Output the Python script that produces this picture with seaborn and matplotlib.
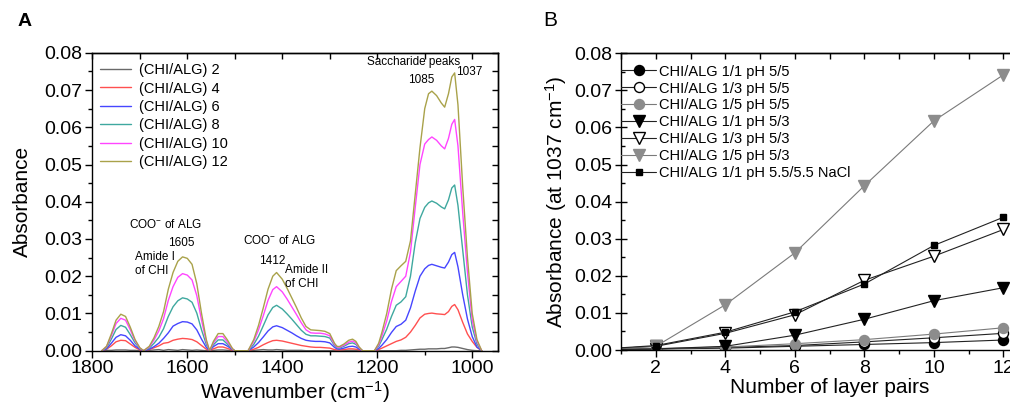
import matplotlib
matplotlib.use("Agg")
import matplotlib.pyplot as plt
import seaborn as sns
from matplotlib.ticker import MultipleLocator, FormatStrFormatter

# ---- panel A: FTIR spectra (baseline corrected per segment) ----
wavenumber = [1780, 1770, 1760, 1750, 1740, 1730, 1720, 1710, 1700, 1692,
              1680, 1670, 1660, 1650, 1640, 1630, 1620, 1610, 1600, 1590, 1580, 1570, 1560, 1553,
              1545, 1535, 1525, 1515, 1505, 1500,
              1472, 1460, 1450, 1440, 1430, 1420, 1412, 1400, 1390, 1380, 1370, 1360, 1350, 1340,
              1330, 1320, 1310, 1300, 1290, 1285,
              1280, 1270, 1260, 1252, 1245, 1238, 1231,
              1206, 1197, 1190, 1180, 1170, 1160, 1150, 1140, 1130, 1120, 1110, 1100, 1092, 1085,
              1075, 1065, 1058, 1050, 1043, 1037, 1030, 1020, 1010, 1000, 990, 980]

abs_2 = [0, 0.0001, 0.0001, 0.0002, 0.0002, 0.0002, 0.0001, 0.0001, 0, 0,
         0.0001, 0.0002, 0.0003, 0.0001, 0.0003, 0.0002, 0.0001, 0.0003, 0.0002, 0.0001, 0.0002, 0.0001, 0, 0,
         0.0001, 0.0002, 0.0002, 0.0001, 0, 0,
         0, 0.0001, 0.0002, 0.0003, 0.0002, 0.0002, 0.0003, 0.0002, 0.0001, 0.0001, 0.0001, 0.0001, 0, 0,
         0, 0, 0, 0, 0, 0,
         0, 0, 0.0001, 0.0001, 0.0001, 0, 0,
         0, 0, 0, 0, 0, 0, 0.0001, 0.0001, 0.0002, 0.0003, 0.0004, 0.0004, 0.0005, 0.0005,
         0.0005, 0.0006, 0.0006, 0.0008, 0.0010, 0.0010, 0.0009, 0.0006, 0.0003, 0.0001, 0, 0]

abs_4 = [0, 0.0004, 0.0013, 0.0024, 0.0028, 0.0027, 0.0018, 0.0009, 0.0002, 0,
         0.0003, 0.0008, 0.0013, 0.0020, 0.0022, 0.0028, 0.0031, 0.0033, 0.0032, 0.0030, 0.0024, 0.0014, 0.0004, 0,
         0.0005, 0.0010, 0.0010, 0.0006, 0.0001, 0,
         0, 0.0004, 0.0009, 0.0016, 0.0022, 0.0027, 0.0028, 0.0026, 0.0023, 0.0020, 0.0017, 0.0014, 0.0012, 0.0010,
         0.0009, 0.0009, 0.0008, 0.0007, 0.0003, 0.0002,
         0.0002, 0.0003, 0.0005, 0.0005, 0.0004, 0.0002, 0,
         0, 0.0003, 0.0007, 0.0013, 0.0019, 0.0025, 0.0029, 0.0036, 0.0050, 0.0068, 0.0088, 0.0098, 0.0100, 0.0101,
         0.0099, 0.0098, 0.0097, 0.0105, 0.0119, 0.0124, 0.0110, 0.0076, 0.0045, 0.0025, 0.0009, 0]

abs_6 = [0, 0.0005, 0.0020, 0.0036, 0.0043, 0.0040, 0.0028, 0.0013, 0.0004, 0,
         0.0004, 0.0011, 0.0020, 0.0033, 0.0048, 0.0066, 0.0073, 0.0078, 0.0077, 0.0072, 0.0056, 0.0031, 0.0009, 0,
         0.0011, 0.0019, 0.0019, 0.0012, 0.0003, 0,
         0, 0.0010, 0.0022, 0.0037, 0.0053, 0.0064, 0.0067, 0.0062, 0.0055, 0.0048, 0.0040, 0.0033, 0.0028, 0.0026,
         0.0025, 0.0025, 0.0024, 0.0021, 0.0009, 0.0005,
         0.0004, 0.0007, 0.0011, 0.0012, 0.0010, 0.0004, 0,
         0, 0.0006, 0.0015, 0.0030, 0.0049, 0.0065, 0.0071, 0.0082, 0.0115, 0.0160, 0.0200, 0.0220, 0.0229, 0.0232,
         0.0228, 0.0224, 0.0222, 0.0238, 0.0258, 0.0264, 0.0225, 0.0150, 0.0085, 0.0038, 0.0010, 0]

abs_8 = [0, 0.0008, 0.0031, 0.0057, 0.0068, 0.0063, 0.0043, 0.0021, 0.0006, 0,
         0.0007, 0.0020, 0.0036, 0.0059, 0.0092, 0.0118, 0.0134, 0.0142, 0.0139, 0.0130, 0.0101, 0.0056, 0.0017, 0,
         0.0016, 0.0029, 0.0029, 0.0017, 0.0004, 0,
         0, 0.0017, 0.0039, 0.0067, 0.0096, 0.0116, 0.0122, 0.0112, 0.0099, 0.0085, 0.0070, 0.0055, 0.0044, 0.0040,
         0.0040, 0.0039, 0.0038, 0.0034, 0.0014, 0.0008,
         0.0007, 0.0012, 0.0019, 0.0021, 0.0017, 0.0007, 0,
         0, 0.0012, 0.0030, 0.0058, 0.0092, 0.0122, 0.0131, 0.0145, 0.0200, 0.0290, 0.0355, 0.0385, 0.0397, 0.0402,
         0.0396, 0.0386, 0.0381, 0.0405, 0.0437, 0.0445, 0.0390, 0.0270, 0.0150, 0.0064, 0.0018, 0]

abs_10 = [0, 0.0011, 0.0040, 0.0073, 0.0087, 0.0082, 0.0056, 0.0027, 0.0007, 0,
          0.0010, 0.0029, 0.0053, 0.0086, 0.0135, 0.0172, 0.0197, 0.0207, 0.0203, 0.0190, 0.0148, 0.0082, 0.0025, 0,
          0.0021, 0.0038, 0.0038, 0.0023, 0.0005, 0,
          0, 0.0025, 0.0056, 0.0094, 0.0135, 0.0164, 0.0172, 0.0158, 0.0139, 0.0118, 0.0097, 0.0075, 0.0056, 0.0048,
          0.0047, 0.0047, 0.0045, 0.0040, 0.0017, 0.0010,
          0.0009, 0.0015, 0.0023, 0.0026, 0.0021, 0.0008, 0,
          0, 0.0016, 0.0040, 0.0080, 0.0132, 0.0172, 0.0186, 0.0200, 0.0265, 0.0385, 0.0500, 0.0555, 0.0567, 0.0574,
          0.0565, 0.0550, 0.0542, 0.0570, 0.0608, 0.0621, 0.0550, 0.0370, 0.0210, 0.0082, 0.0025, 0]

abs_12 = [0, 0.0012, 0.0045, 0.0082, 0.0098, 0.0092, 0.0063, 0.0030, 0.0008, 0,
          0.0012, 0.0035, 0.0065, 0.0105, 0.0165, 0.0210, 0.0240, 0.0252, 0.0248, 0.0232, 0.0180, 0.0100, 0.0030, 0,
          0.0025, 0.0046, 0.0046, 0.0028, 0.0006, 0,
          0, 0.0030, 0.0068, 0.0115, 0.0165, 0.0200, 0.0210, 0.0192, 0.0168, 0.0142, 0.0116, 0.0088, 0.0065, 0.0056,
          0.0055, 0.0054, 0.0052, 0.0046, 0.0020, 0.0012,
          0.0011, 0.0018, 0.0028, 0.0031, 0.0025, 0.0010, 0,
          0, 0.0020, 0.0050, 0.0100, 0.0165, 0.0215, 0.0228, 0.0240, 0.0295, 0.0420, 0.0545, 0.0650, 0.0690, 0.0697,
          0.0685, 0.0665, 0.0654, 0.0690, 0.0735, 0.0746, 0.0660, 0.0440, 0.0250, 0.0100, 0.0030, 0]

spectra = [abs_2, abs_4, abs_6, abs_8, abs_10, abs_12]
spectra_labels = ["(CHI/ALG) 2", "(CHI/ALG) 4", "(CHI/ALG) 6",
                  "(CHI/ALG) 8", "(CHI/ALG) 10", "(CHI/ALG) 12"]
spectra_colors = ["#6a6a6a", "#ff5050", "#4646ff", "#3fa89f", "#ff45ff", "#a9a24a"]

# ---- panel B: absorbance at 1037 cm-1 vs layer pairs ----
layer_pairs = [0, 2, 4, 6, 8, 10, 12]
b_11_55 = [0, 0.0003, 0.0005, 0.0010, 0.0015, 0.0020, 0.0027]
b_13_55 = [0, 0.0003, 0.0007, 0.0012, 0.0022, 0.0033, 0.0045]
b_15_55 = [0, 0.0004, 0.0008, 0.0017, 0.0028, 0.0043, 0.0060]
b_11_53 = [0, 0.0003, 0.0010, 0.0040, 0.0083, 0.0133, 0.0168]
b_13_53 = [0, 0.0010, 0.0045, 0.0095, 0.0188, 0.0253, 0.0325]
b_15_53 = [0, 0.0010, 0.0122, 0.0262, 0.0443, 0.0618, 0.0742]
b_11_nacl = [0, 0.0012, 0.0048, 0.0103, 0.0178, 0.0282, 0.0358]

growth = [b_11_55, b_13_55, b_15_55, b_11_53, b_13_53, b_15_53, b_11_nacl]
growth_labels = ["CHI/ALG 1/1 pH 5/5", "CHI/ALG 1/3 pH 5/5", "CHI/ALG 1/5 pH 5/5",
                 "CHI/ALG 1/1 pH 5/3", "CHI/ALG 1/3 pH 5/3", "CHI/ALG 1/5 pH 5/3",
                 "CHI/ALG 1/1 pH 5.5/5.5 NaCl"]
# marker, face, edge, line colour, size
growth_styles = [("o", "black", "black", "#222222", 7.2),
                 ("o", "white", "black", "#222222", 7.2),
                 ("o", "#8c8c8c", "#8c8c8c", "#7a7a7a", 7.2),
                 ("v", "black", "black", "#222222", 8.0),
                 ("v", "white", "black", "#222222", 8.0),
                 ("v", "#8c8c8c", "#8c8c8c", "#7a7a7a", 8.0),
                 ("s", "black", "black", "#222222", 4.6)]

sns.set_theme(style="ticks")
plt.rcParams["font.family"] = ["Liberation Sans", "DejaVu Sans"]
plt.rcParams["mathtext.default"] = "regular"
for key in ["text.color", "axes.labelcolor", "xtick.color", "ytick.color", "axes.edgecolor"]:
    plt.rcParams[key] = "black"
plt.rcParams["axes.linewidth"] = 1.0

fig = plt.figure(figsize=(10.1, 4.07), dpi=100)
ax_a = fig.add_axes([0.0914, 0.1383, 0.402, 0.732])
ax_b = fig.add_axes([0.6149, 0.140, 0.413, 0.729])

# panel A
for vals, lab, col in zip(spectra, spectra_labels, spectra_colors):
    sns.lineplot(x=wavenumber, y=vals, ax=ax_a, color=col, lw=1.0, label=lab,
                 sort=False, estimator=None, errorbar=None)

ax_a.set_xlim(1800, 945)
ax_a.set_ylim(0, 0.08)
ax_a.xaxis.set_major_locator(MultipleLocator(200))
ax_a.xaxis.set_minor_locator(MultipleLocator(100))
ax_a.yaxis.set_major_locator(MultipleLocator(0.01))
ax_a.yaxis.set_minor_locator(MultipleLocator(0.005))
ax_a.yaxis.set_major_formatter(FormatStrFormatter("%.2f"))
ax_a.tick_params(which="both", direction="out", labelsize=14, width=1.0, pad=2)
ax_a.tick_params(which="major", length=5)
ax_a.tick_params(which="minor", length=3)
ax_a.set_xlabel("Wavenumber (cm$^{-1}$)", fontsize=15, labelpad=1)
ax_a.set_ylabel("Absorbance", fontsize=15, labelpad=9)

top_a = ax_a.secondary_xaxis("top")
top_a.xaxis.set_major_locator(MultipleLocator(100))
top_a.tick_params(direction="in", labeltop=False, length=4, width=1.0)
right_a = ax_a.secondary_yaxis("right")
right_a.yaxis.set_major_locator(MultipleLocator(0.005))
right_a.tick_params(direction="in", labelright=False, length=4, width=1.0)

ax_a.legend(loc="upper left", bbox_to_anchor=(0.019, 0.965), frameon=False, fontsize=10.5,
            borderpad=0, borderaxespad=0, handlelength=2.1, handletextpad=0.55, labelspacing=0.3)

note_kw = dict(fontsize=8.5, ha="center", va="center")
ax_a.text(1124, 0.0775, "Saccharide peaks", **note_kw)
ax_a.text(1108, 0.0726, "1085", **note_kw)
ax_a.text(1006, 0.0748, "1037", **note_kw)
ax_a.text(1645, 0.0340, "COO$^{-}$ of ALG", **note_kw)
ax_a.text(1612, 0.0288, "1605", **note_kw)
ax_a.text(1710, 0.0232, "Amide I\nof CHI", fontsize=8.5, ha="left", va="center", linespacing=1.25)
ax_a.text(1406, 0.0295, "COO$^{-}$ of ALG", **note_kw)
ax_a.text(1421, 0.0240, "1412", **note_kw)
ax_a.text(1395, 0.0198, "Amide II\nof CHI", fontsize=8.5, ha="left", va="center", linespacing=1.25)

# panel B
for vals, lab, (mk, face, edge, lc, ms) in zip(growth, growth_labels, growth_styles):
    sns.lineplot(x=layer_pairs, y=vals, ax=ax_b, color=lc, lw=0.8, label=lab,
                 marker=mk, mfc=face, mec=edge, ms=ms, mew=1.0,
                 estimator=None, errorbar=None)

ax_b.set_xlim(1, 13)
ax_b.set_ylim(0, 0.08)
ax_b.xaxis.set_major_locator(MultipleLocator(2))
ax_b.xaxis.set_minor_locator(MultipleLocator(1))
ax_b.yaxis.set_major_locator(MultipleLocator(0.01))
ax_b.yaxis.set_minor_locator(MultipleLocator(0.005))
ax_b.yaxis.set_major_formatter(FormatStrFormatter("%.2f"))
ax_b.tick_params(axis="x", which="both", direction="out", labelsize=14, width=1.0, pad=2)
ax_b.tick_params(axis="x", which="major", length=5)
ax_b.tick_params(axis="x", which="minor", length=3)
ax_b.tick_params(axis="y", which="major", direction="inout", length=8, width=1.0, labelsize=14, pad=2)
ax_b.tick_params(axis="y", which="minor", direction="in", length=3, width=1.0)
ax_b.spines["right"].set_visible(False)
ax_b.set_xlabel("Number of layer pairs", fontsize=15, labelpad=1)
ax_b.set_ylabel("Absorbance (at 1037 cm$^{-1}$)", fontsize=15, labelpad=4)

top_b = ax_b.secondary_xaxis("top")
top_b.xaxis.set_major_locator(MultipleLocator(1))
top_b.tick_params(direction="in", labeltop=False, length=4, width=1.0)

ax_b.legend(loc="upper left", bbox_to_anchor=(0.0, 0.962), frameon=False, fontsize=10.5,
            borderpad=0, borderaxespad=0, handlelength=2.4, handletextpad=0.2, labelspacing=0.2)

fig.text(0.0243, 0.947, "A", fontsize=14, fontweight="bold", ha="center", va="center")
fig.text(0.5446, 0.950, "B", fontsize=15, ha="center", va="center")

fig.savefig("out.png", dpi=100)
